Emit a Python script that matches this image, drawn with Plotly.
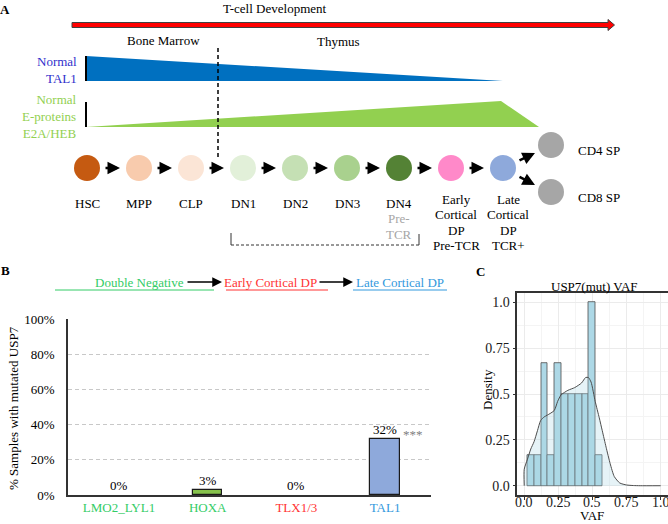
import plotly.graph_objects as go

W, H = 668, 524
SERIF = "Liberation Serif"

# ---------------- Panel A data ----------------
stage_label_lines = [["HSC"], ["MPP"], ["CLP"], ["DN1"], ["DN2"], ["DN3"],
                     ["DN4", "Pre-", "TCR"],
                     ["Early", "Cortical", "DP", "Pre-TCR"],
                     ["Late", "Cortical", "DP", "TCR+"]]
stage_colors = ["#C55A11", "#F8CBAD", "#FBE5D6", "#E2F0D9", "#C5E0B4",
                "#A9D18E", "#548235", "#FF89C9", "#8EA9DB"]
sp_labels = ["CD4 SP", "CD8 SP"]
sp_colors = ["#A6A6A6", "#A6A6A6"]
tal1_label = ["Normal", "TAL1"]
eprot_label = ["Normal", "E-proteins", "E2A/HEB"]
timeline_title = "T-cell Development"
site_labels = ["Bone Marrow", "Thymus"]

# ---------------- Panel B data ----------------
lineage_steps = ["Double Negative", "Early Cortical DP", "Late Cortical DP"]
lineage_colors = ["#33CC66", "#FF3333", "#3399DD"]
subtypes = ["LMO2_LYL1", "HOXA", "TLX1/3", "TAL1"]
subtype_colors = ["#33CC66", "#33CC66", "#FF3333", "#3399DD"]
pct_mutated = [0, 3, 0, 32]
bar_fill = ["#FFFFFF", "#86C24C", "#FFFFFF", "#8EA9DB"]
significance = ["", "", "", "***"]
pct_ticks = [0, 20, 40, 60, 80, 100]

# ---------------- Panel C data ----------------
vaf_bin_centers = [0.048, 0.098, 0.148, 0.198, 0.248, 0.298, 0.348, 0.398, 0.448, 0.498, 0.548]
vaf_hist_density = [1/6, 1/6, 4/6, 1/6, 4/6, 3/6, 3/6, 3/6, 3/6, 1.0, 1/6]
kde_x = [0.0, 0.0, 0.024, 0.048, 0.072, 0.097, 0.12, 0.146, 0.17, 0.22, 0.245, 0.27, 0.32,
         0.37, 0.42, 0.45, 0.47, 0.49, 0.52, 0.55, 0.572, 0.60, 0.63, 0.66, 0.70, 0.75,
         0.80, 0.85, 1.0]
kde_y = [0.0, 0.09, 0.145, 0.20, 0.24, 0.30, 0.355, 0.375, 0.385, 0.41, 0.46, 0.495, 0.52,
         0.535, 0.56, 0.59, 0.59, 0.565, 0.46, 0.37, 0.30, 0.21, 0.12, 0.05, 0.015, 0.004,
         0.001, 0.0, 0.0]
c_ticks = [0.0, 0.25, 0.5, 0.75, 1.0]
c_ticktext = ["0.0", "0.25", "0.5", "0.75", "1.0"]

# ---------------- figure ----------------
fig = go.Figure()
shapes = []
ann = []


def text(x, y, s, size=13, color="black", xanchor="center", yanchor="middle",
         angle=0, align="center", xref="x3"):
    ann.append(dict(x=x, y=y, xref=xref, yref="y3", text=s, showarrow=False,
                    font=dict(family=SERIF, size=size, color=color),
                    xanchor=xanchor, yanchor=yanchor, textangle=angle, align=align))


def arrow(x0, y0, x1, y1, width=2.5, size=1.0, color="black"):
    ann.append(dict(x=x1, y=y1, ax=x0, ay=y0, xref="x3", yref="y3", axref="x3",
                    ayref="y3", text="", showarrow=True, arrowhead=2, arrowsize=size,
                    arrowwidth=width, arrowcolor=color, standoff=0))


def line(x0, y0, x1, y1, color="black", width=1, dash="solid"):
    shapes.append(dict(type="line", xref="x3", yref="y3", x0=x0, y0=y0, x1=x1, y1=y1,
                       line=dict(color=color, width=width, dash=dash)))


def poly(path, fill, lc="rgba(0,0,0,0)", lw=0):
    shapes.append(dict(type="path", xref="x3", yref="y3", path=path, fillcolor=fill,
                       line=dict(color=lc, width=lw), layer="below"))


# ---- Panel A ----
text(5, 9, "<b>A</b>")
text(275, 8, timeline_title)
poly("M72,22.5 L608,22.5 L608,19.5 L614.5,25 L608,30.5 L608,27.5 L72,27.5 Z",
     "#FF0000", "#404040", 1)
text(163, 40, site_labels[0])
text(338, 41, site_labels[1])
line(218, 48, 218, 160, width=1.5, dash="4px,3px")

# TAL1 wedge
poly("M86,56 L503,81 L86,81 Z", "#0070C0")
line(86, 56, 86, 81, width=2)
text(79, 69.5, "<br>".join(tal1_label), color="#3030CC", xanchor="right", align="right")
# E-proteins wedge
poly("M86,127 L501,101 L539,127 Z", "#92D050")
line(86, 102, 86, 127, width=2)
text(79, 116.5, "<br>".join(eprot_label), color="#92D050", xanchor="right", align="right")

NODE_X0, NODE_DX, NODE_Y = 87, 52, 168
node_x = [NODE_X0 + NODE_DX * i for i in range(len(stage_colors))]
fig.add_trace(go.Scatter(x=node_x, y=[NODE_Y] * len(node_x), mode="markers",
                         marker=dict(size=26, color=stage_colors, line=dict(width=0)),
                         xaxis="x3", yaxis="y3", hoverinfo="skip", showlegend=False))
SP_X, SP_Y = 551, [145, 192]
fig.add_trace(go.Scatter(x=[SP_X, SP_X], y=SP_Y, mode="markers",
                         marker=dict(size=26, color=sp_colors, line=dict(width=0)),
                         xaxis="x3", yaxis="y3", hoverinfo="skip", showlegend=False))
for i in range(len(node_x) - 1):
    arrow(node_x[i] + 17, NODE_Y, node_x[i + 1] - 19, NODE_Y)
arrow(node_x[-1] + 15, NODE_Y - 7, SP_X - 16, SP_Y[0] + 8)
arrow(node_x[-1] + 15, NODE_Y + 8, SP_X - 16, SP_Y[1] - 7)
for k, lab in enumerate(sp_labels):
    text(576, SP_Y[k] + 5, lab, xanchor="left")

for i, lines in enumerate(stage_label_lines):
    y0 = 199 if len(lines) > 3 else 203
    xo = 5 if len(lines) > 3 else 0
    for k, s in enumerate(lines):
        col = "#A6A6A6" if (len(lines) == 3 and k > 0) else "black"
        text(node_x[i] + xo, y0 + 15.6 * k, s, color=col)

# bracket under thymic DN stages
line(231, 233, 231, 245, color="#333333")
line(231, 245, 419, 245, color="#333333", dash="3px,2px")
line(419, 234, 419, 245, color="#333333")

# ---- Panel B ----
text(5, 270, "<b>B</b>")
text(139, 282, lineage_steps[0], color=lineage_colors[0])
arrow(186, 282, 222, 282, width=1.5, size=1.3)
text(270.5, 282, lineage_steps[1], color=lineage_colors[1])
arrow(318, 282, 353, 282, width=1.5, size=1.3)
text(399.5, 282, lineage_steps[2], color=lineage_colors[2])
line(55, 290, 214, 290, color=lineage_colors[0])
line(226, 290, 328, 290, color=lineage_colors[1])
line(353, 290, 447, 290, color=lineage_colors[2])
text(13, 408, "% Samples with mutated USP7", angle=-90)

fig.add_trace(go.Bar(x=list(range(len(subtypes))), y=pct_mutated, width=0.33,
                     marker=dict(color=bar_fill,
                                 line=dict(color="#1a1a1a",
                                           width=[1.2 if v > 0 else 0 for v in pct_mutated])),
                     xaxis="x", yaxis="y", hoverinfo="skip", showlegend=False))
for i, v in enumerate(pct_mutated):
    ann.append(dict(x=i, y=v, xref="x", yref="y", text=f"{v}%", showarrow=False,
                    yanchor="bottom", yshift=0,
                    font=dict(family=SERIF, size=13, color="black")))
    if significance[i]:
        ann.append(dict(x=i, y=v, xref="x", yref="y", text=significance[i],
                        showarrow=False, yanchor="bottom", yshift=-5, xshift=28,
                        font=dict(family=SERIF, size=13, color="#808080")))

# ---- Panel C ----
text(480, 271, "<b>C</b>")
text(594, 286, "USP7(mut) VAF")
text(592, 515, "VAF")
text(487, 390, "Density", angle=-90)
for t, s in zip(c_ticks, c_ticktext):
    text(t, 502, s, size=14, color="#1a1a1a", xref="x2")
fig.add_trace(go.Bar(x=vaf_bin_centers, y=vaf_hist_density, width=0.05,
                     marker=dict(color="#ADD8E6", line=dict(color="#4D4D4D", width=0.8)),
                     xaxis="x2", yaxis="y2", hoverinfo="skip", showlegend=False))
fig.add_trace(go.Scatter(x=kde_x, y=kde_y, mode="lines", fill="tozeroy",
                         fillcolor="rgba(173,216,230,0.3)",
                         line=dict(color="#4D4D4D", width=1, shape="spline", smoothing=0.6),
                         xaxis="x2", yaxis="y2", hoverinfo="skip", showlegend=False))

fig.update_layout(
    template="none",
    width=W, height=H, margin=dict(l=0, r=0, t=0, b=0, pad=0, autoexpand=False),
    paper_bgcolor="white", plot_bgcolor="rgba(0,0,0,0)",
    font=dict(family=SERIF, size=13, color="black"),
    showlegend=False, bargap=0,
    xaxis=dict(domain=[68 / W, 431 / W], range=[-0.575, 3.518], automargin=False,
               tickmode="array", tickvals=list(range(len(subtypes))),
               ticktext=[f"<span style='color:{c}'>{s}</span>" for s, c in zip(subtypes, subtype_colors)],
               showline=True, linecolor="#333333", linewidth=1.5, ticks="",
               showgrid=False, zeroline=False, tickfont=dict(size=13)),
    yaxis=dict(domain=[(H - 495) / H, (H - 319) / H], range=[0, 100], automargin=False,
               tickmode="array", tickvals=pct_ticks, ticktext=[f"{t}%" for t in pct_ticks],
               showline=True, linecolor="#333333", linewidth=1.5, ticks="",
               ticklabelstandoff=9,
               showgrid=True, gridcolor="#C8C8C8", griddash="4px,3px", gridwidth=1,
               zeroline=False, tickfont=dict(size=13)),
    xaxis2=dict(domain=[517.4 / W, 667.5 / W], range=[-0.05, 1.05], automargin=False,
                tickmode="array", tickvals=c_ticks, ticktext=["" for _ in c_ticks],
                showline=True, mirror=True, linecolor="#333333", linewidth=1.5,
                ticks="outside", ticklen=3, tickcolor="#333333",
                showgrid=True, gridcolor="#EBEBEB", gridwidth=1, zeroline=False,
                minor=dict(tickmode="linear", tick0=0.125, dtick=0.25, showgrid=True,
                           gridcolor="#F4F4F4", gridwidth=0.6, ticks=""),
                anchor="y2"),
    yaxis2=dict(domain=[(H - 494.9) / H, (H - 293.1) / H], range=[-0.05, 1.05], automargin=False,
                tickmode="array", tickvals=c_ticks, ticktext=c_ticktext,
                showline=True, mirror=True, linecolor="#333333", linewidth=1.5,
                ticks="outside", ticklen=3, tickcolor="#333333",
                showgrid=True, gridcolor="#EBEBEB", gridwidth=1, zeroline=False,
                minor=dict(tickmode="linear", tick0=0.125, dtick=0.25, showgrid=True,
                           gridcolor="#F4F4F4", gridwidth=0.6, ticks=""),
                tickfont=dict(size=14, color="#1a1a1a"), anchor="x2"),
    xaxis3=dict(domain=[0, 1], range=[0, W], visible=False, anchor="y3", fixedrange=True),
    yaxis3=dict(domain=[0, 1], range=[H, 0], visible=False, anchor="x3", fixedrange=True),
    shapes=shapes, annotations=ann,
)

fig.write_html("out.html", config={"displayModeBar": False},
               post_script="document.body.style.margin='0px';document.body.style.overflow='hidden';")
